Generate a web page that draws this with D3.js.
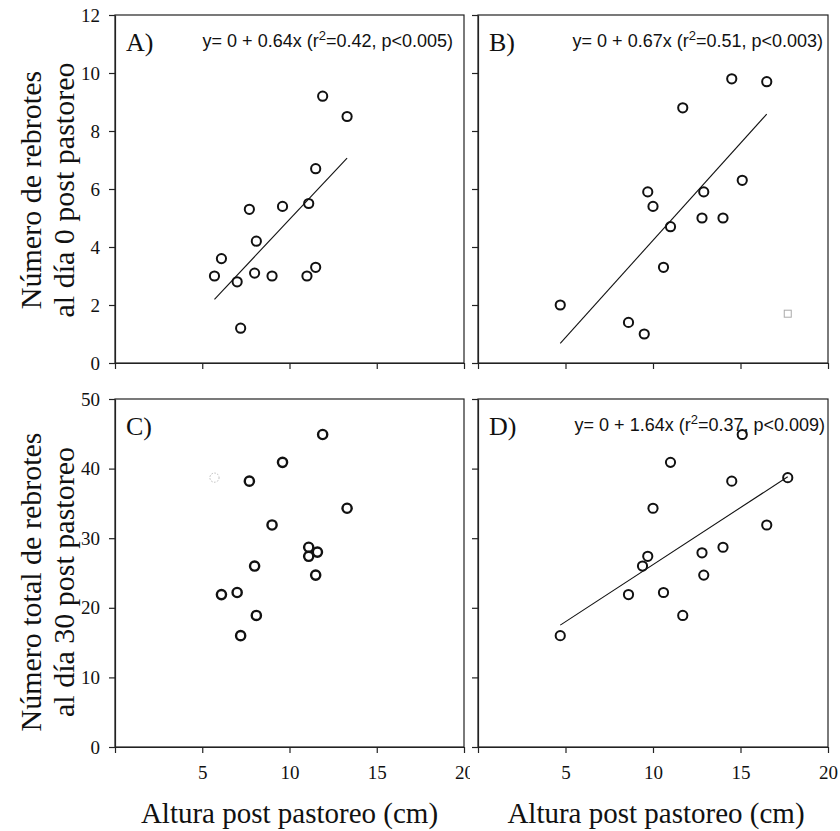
<!DOCTYPE html>
<html>
<head>
<meta charset="utf-8">
<script src="https://cdn.jsdelivr.net/npm/d3@7"></script>
<style>
  html, body { margin: 0; padding: 0; background: #fff; }
  svg { display: block; }
</style>
</head>
<body>
<svg id="fig" width="840" height="831"></svg>
<script>
// Plant height after grazing (cm) vs. regrowth counts, four panels.

// Panel A: regrowths at day 0 (first group)
const xA = [5.7, 6.1, 7.0, 7.2, 7.7, 8.0, 8.1, 9.0, 9.6, 11.0, 11.1, 11.5, 11.5, 11.9, 13.3];
const yA = [3.0, 3.6, 2.8, 1.2, 5.3, 3.1, 4.2, 3.0, 5.4, 3.0, 5.5, 3.3, 6.7, 9.2, 8.5];

// Panel B: regrowths at day 0 (second group)
const xB = [4.7, 8.6, 9.5, 9.7, 10.0, 10.6, 11.0, 11.7, 12.8, 12.9, 14.0, 14.5, 15.1, 16.5];
const yB = [2.0, 1.4, 1.0, 5.9, 5.4, 3.3, 4.7, 8.8, 5.0, 5.9, 5.0, 9.8, 6.3, 9.7];
const squareB = [[17.7, 1.7]];

// Panel C: total regrowths at day 30 (first group)
const xC = [6.1, 7.0, 7.2, 7.7, 8.0, 8.1, 9.0, 9.6, 11.1, 11.1, 11.6, 11.5, 11.9, 13.3];
const yC = [21.9, 22.2, 16.0, 38.2, 26.0, 18.9, 31.9, 40.9, 28.7, 27.4, 28.0, 24.7, 44.9, 34.3];
const faintC = [[5.7, 38.7]];

// Panel D: total regrowths at day 30 (second group)
const xD = [4.7, 8.6, 9.4, 9.7, 10.0, 10.6, 11.0, 11.7, 12.8, 12.9, 14.0, 14.5, 15.1, 16.5, 17.7];
const yD = [16.0, 21.9, 26.0, 27.4, 34.3, 22.2, 40.9, 18.9, 27.9, 24.7, 28.7, 38.2, 44.9, 31.9, 38.7];

// Fitted lines: slope from the equation text, intercept and x-extent of each fit
const slopes = { A: 0.64, B: 0.67, D: 1.64 };
const intercepts = { A: -1.45, B: -2.47, D: 9.8 };
const fitRange = { A: [5.7, 13.3], B: [4.7, 16.5], D: [4.7, 17.7] };

// Equation text
const eqs = {
  A: ["y= 0 + 0.64x (r", "2", "=0.42, p<0.005)"],
  B: ["y= 0 + 0.67x (r", "2", "=0.51, p<0.003)"],
  D: ["y= 0 + 1.64x (r", "2", "=0.37, p<0.009)"]
};
const eqRightPad = { A: 11, B: 5, D: 3 };

const xTicks = [0, 5, 10, 15, 20];
const yTicksTop = [0, 2, 4, 6, 8, 10, 12];
const yTicksBottom = [0, 10, 20, 30, 40, 50];

const yTitleTop = ["Número de rebrotes", "al día 0 post pastoreo"];
const yTitleBottom = ["Número total de rebrotes", "al día 30 post pastoreo"];
const xTitle = "Altura post pastoreo (cm)";

const svg = d3.select("#fig");
const serif = "'Liberation Serif', 'Times New Roman', serif";
const sans = "'Liberation Sans', Arial, sans-serif";
const ink = "#111";

const colsX = [[115, 464], [478, 828]];
const rowsY = [[363, 15], [747, 399]];

const xScales = colsX.map(r => d3.scaleLinear().domain([0, 20]).range(r));
const yScales = [
  d3.scaleLinear().domain([0, 12]).range(rowsY[0]),
  d3.scaleLinear().domain([0, 50]).range(rowsY[1])
];

function drawPanel(opts) {
  const { col, row, letter, xs, ys, showXLabels, showYLabels, key } = opts;
  const x = xScales[col], y = yScales[row];
  const g = svg.append("g");
  const [x0, x1] = x.range();
  const [yb, yt] = y.range();

  // white backdrop for the panel column
  if (col === 1) {
    g.append("rect").attr("x", 470).attr("y", yt - 10).attr("width", 370).attr("height", yb - yt + 60)
      .attr("fill", "#fff");
  }

  // frame
  g.append("rect").attr("x", x0).attr("y", yt).attr("width", x1 - x0).attr("height", yb - yt)
    .attr("fill", "none").attr("stroke", "#222").attr("stroke-width", 1.2);

  // x axis
  const xa = d3.axisBottom(x).tickValues(xTicks).tickSizeInner(6).tickSizeOuter(0)
    .tickFormat(d => (showXLabels && d !== 0) ? d : "");
  const gx = g.append("g").attr("transform", `translate(0,${yb})`).call(xa);
  gx.select(".domain").attr("stroke", "#222").attr("stroke-width", 1.2);
  gx.selectAll(".tick line").attr("stroke", "#222").attr("stroke-width", 1.2);
  gx.selectAll(".tick text").attr("font-family", serif).attr("font-size", 19)
    .attr("fill", ink).attr("dy", "0.71em").attr("y", 19);

  // y axis
  const yt_ = row === 0 ? yTicksTop : yTicksBottom;
  const ya = d3.axisLeft(y).tickValues(yt_).tickSizeInner(6).tickSizeOuter(0)
    .tickFormat(d => showYLabels ? d : "");
  const gy = g.append("g").attr("transform", `translate(${x0},0)`).call(ya);
  gy.select(".domain").attr("stroke", "#222").attr("stroke-width", 1.2);
  gy.selectAll(".tick line").attr("stroke", "#222").attr("stroke-width", 1.2);
  gy.selectAll(".tick text").attr("font-family", serif).attr("font-size", 19)
    .attr("fill", ink).attr("x", -15);

  // panel letter
  g.append("text").attr("x", x0 + 11).attr("y", yt + 36)
    .attr("font-family", serif).attr("font-size", 26).attr("fill", ink).text(letter);

  // regression line
  if (key && slopes[key] !== undefined) {
    const [fa, fb] = fitRange[key];
    const line = d3.line().x(d => x(d)).y(d => y(intercepts[key] + slopes[key] * d));
    g.append("path").attr("d", line([fa, fb])).attr("fill", "none")
      .attr("stroke", ink).attr("stroke-width", 1.1);
  }

  // equation
  if (key && eqs[key]) {
    const t = g.append("text").attr("x", x1 - eqRightPad[key]).attr("y", yt + 32)
      .attr("text-anchor", "end").attr("font-family", sans).attr("font-size", 18).attr("fill", ink);
    t.append("tspan").text(eqs[key][0]);
    t.append("tspan").attr("dy", -7).attr("font-size", 13).text(eqs[key][1]);
    t.append("tspan").attr("dy", 7).text(eqs[key][2]);
  }

  // points
  const pts = xs.map((v, i) => [v, ys[i]]);
  g.selectAll("circle.pt").data(pts).enter().append("circle")
    .attr("class", "pt")
    .attr("cx", d => x(d[0])).attr("cy", d => y(d[1])).attr("r", 4.6)
    .attr("fill", "none").attr("stroke", ink).attr("stroke-width", row === 1 && col === 0 ? 2.4 : 2);
  return { g, x, y };
}

const pA = drawPanel({ col: 0, row: 0, letter: "A)", xs: xA, ys: yA, showXLabels: false, showYLabels: true, key: "A" });
const pC = drawPanel({ col: 0, row: 1, letter: "C)", xs: xC, ys: yC, showXLabels: true, showYLabels: true, key: null });
const pB = drawPanel({ col: 1, row: 0, letter: "B)", xs: xB, ys: yB, showXLabels: false, showYLabels: false, key: "B" });
const pD = drawPanel({ col: 1, row: 1, letter: "D)", xs: xD, ys: yD, showXLabels: true, showYLabels: false, key: "D" });

// stray light markers
pB.g.selectAll("rect.sq").data(squareB).enter().append("rect").attr("class", "sq")
  .attr("x", d => pB.x(d[0]) - 3.5).attr("y", d => pB.y(d[1]) - 3.5)
  .attr("width", 7).attr("height", 7).attr("fill", "none").attr("stroke", "#aaa").attr("stroke-width", 1);
pC.g.selectAll("circle.faint").data(faintC).enter().append("circle").attr("class", "faint")
  .attr("cx", d => pC.x(d[0])).attr("cy", d => pC.y(d[1])).attr("r", 4.6)
  .attr("fill", "none").attr("stroke", "#bbb").attr("stroke-width", 1).attr("stroke-dasharray", "1.5,1.5");

// y titles
function yTitle(lines, cy) {
  const t = svg.append("text").attr("transform", `translate(0,${cy}) rotate(-90)`)
    .attr("text-anchor", "middle").attr("font-family", serif).attr("font-size", 30).attr("fill", ink);
  t.append("tspan").attr("x", 0).attr("y", 41).text(lines[0]);
  t.append("tspan").attr("x", 0).attr("y", 74).text(lines[1]);
}
yTitle(yTitleTop, 190);
yTitle(yTitleBottom, 582);

// x titles
[0, 1].forEach(c => {
  const [a, b] = colsX[c];
  svg.append("text").attr("x", (a + b) / 2 + (c === 1 ? 3 : 0)).attr("y", 823)
    .attr("text-anchor", "middle").attr("font-family", serif).attr("font-size", 29).attr("fill", ink)
    .text(xTitle);
});
</script>
</body>
</html>
